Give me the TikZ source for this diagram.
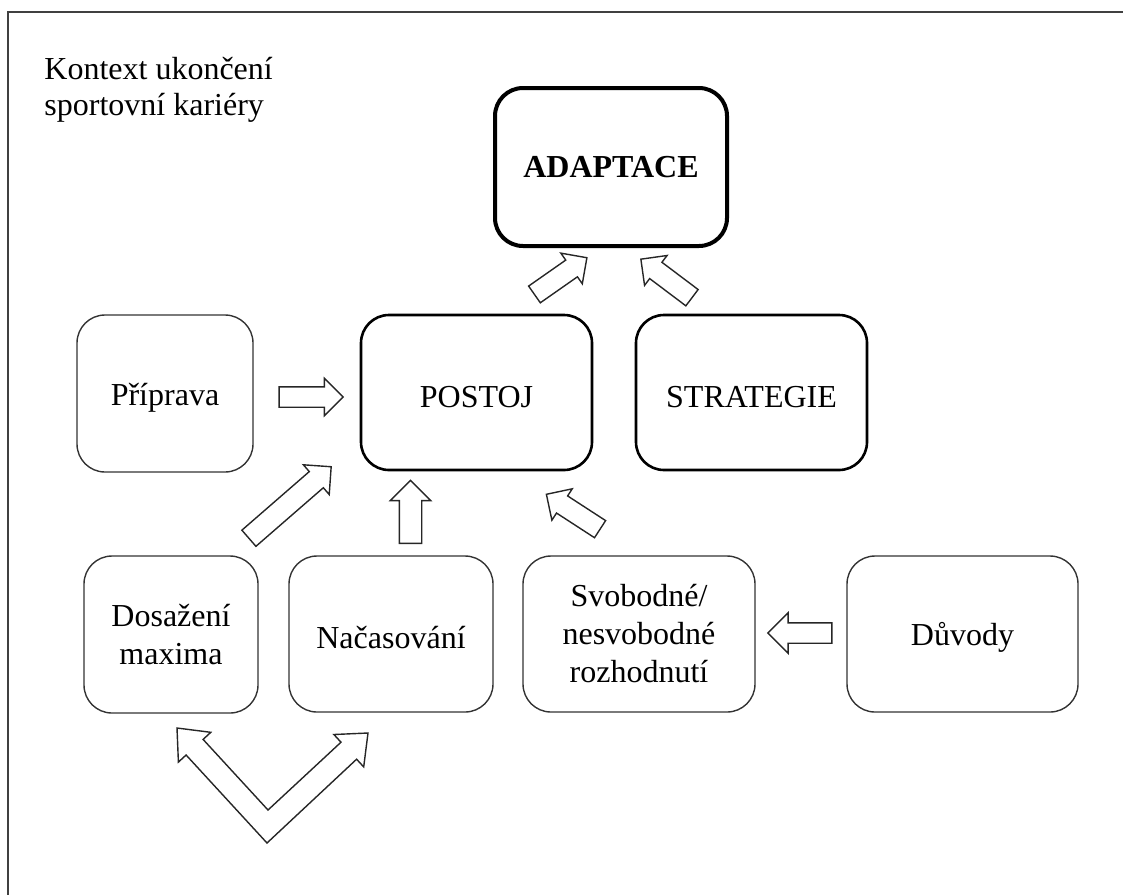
\documentclass[tikz,border=0pt]{standalone}
\usepackage{fontspec}
\setmainfont{Liberation Serif}
\usetikzlibrary{shapes.arrows}

\begin{document}
\begin{tikzpicture}[x=0.5pt,y=-0.5pt,
  topicbox/.style={draw=black!80,line width=0.7pt,rounded corners=14pt,align=center,
    inner sep=2pt,font=\fontsize{16}{19}\selectfont},
  oneline/.style={text height=15pt},
  midbox/.style={topicbox,oneline,draw=black,line width=1.3pt},
  blockarrow/.style={single arrow,draw=black!85,line width=0.7pt,inner xsep=0pt,inner ysep=4.75pt,
    minimum height=32pt,single arrow head extend=4.25pt}]

\useasboundingbox (0,0) rectangle (1123,895);
\draw[black!75,line width=1pt] (1123,12) -- (8,12) -- (8,895);

\node[anchor=west,inner sep=0pt,align=left,font=\fontsize{16}{18}\selectfont] (kontext) at (44,90) {Kontext ukončení\\sportovní kariéry};

\node[topicbox,draw=black,line width=2pt,minimum width=116pt,minimum height=79pt] (adaptace) at (611,167) {\textbf{ADAPTACE}};

\node[topicbox,oneline,minimum width=88pt,minimum height=78.5pt] (priprava) at (165,393.5) {Příprava};
\node[midbox,minimum width=115.5pt,minimum height=77.5pt] (postoj) at (476.5,392.5) {POSTOJ};
\node[midbox,minimum width=115.5pt,minimum height=77.5pt] (strategie) at (751.5,392.5) {STRATEGIE};

\node[topicbox,minimum width=87pt,minimum height=78.5pt] (dosazeni) at (171,634.5) {Dosažení\\maxima};
\node[topicbox,oneline,minimum width=102pt,minimum height=78pt] (nacasovani) at (391,634) {Načasování};
\node[topicbox,minimum width=116pt,minimum height=78pt] (svobodne) at (639,634) {Svobodné/\\nesvobodné\\rozhodnutí};
\node[topicbox,oneline,minimum width=115.5pt,minimum height=78pt] (duvody) at (962.5,634) {Důvody};

\node[blockarrow] (a priprava) at (306,397) {};
\node[blockarrow,rotate=180,single arrow head extend=5pt] (a duvody) at (805,633) {};
\node[blockarrow,rotate=41,minimum height=54.5pt,inner ysep=5pt,single arrow head extend=4.5pt] (a dosazeni) at (286,506) {};
\node[blockarrow,rotate=90,minimum height=31.5pt,inner ysep=5.25pt,single arrow head extend=4.5pt] (a nacasovani) at (410.5,517.5) {};
\node[blockarrow,rotate=147] (a svobodne) at (577.5,514.5) {};
\node[blockarrow,rotate=35] (a postoj) at (556.5,279) {};
\node[blockarrow,rotate=143] (a strategie) at (670.5,281.5) {};

\draw[black!85,line width=0.7pt,line join=miter] (177,728) -- (178.4,762.1) -- (186.1,755) -- (267,843)
  -- (356.6,759.2) -- (363.7,766.9) -- (368,733) -- (333.9,734.5) -- (341,742.2)
  -- (268,810) -- (203.1,739.4) -- (210.8,732.3) -- cycle;
\end{tikzpicture}
\end{document}
